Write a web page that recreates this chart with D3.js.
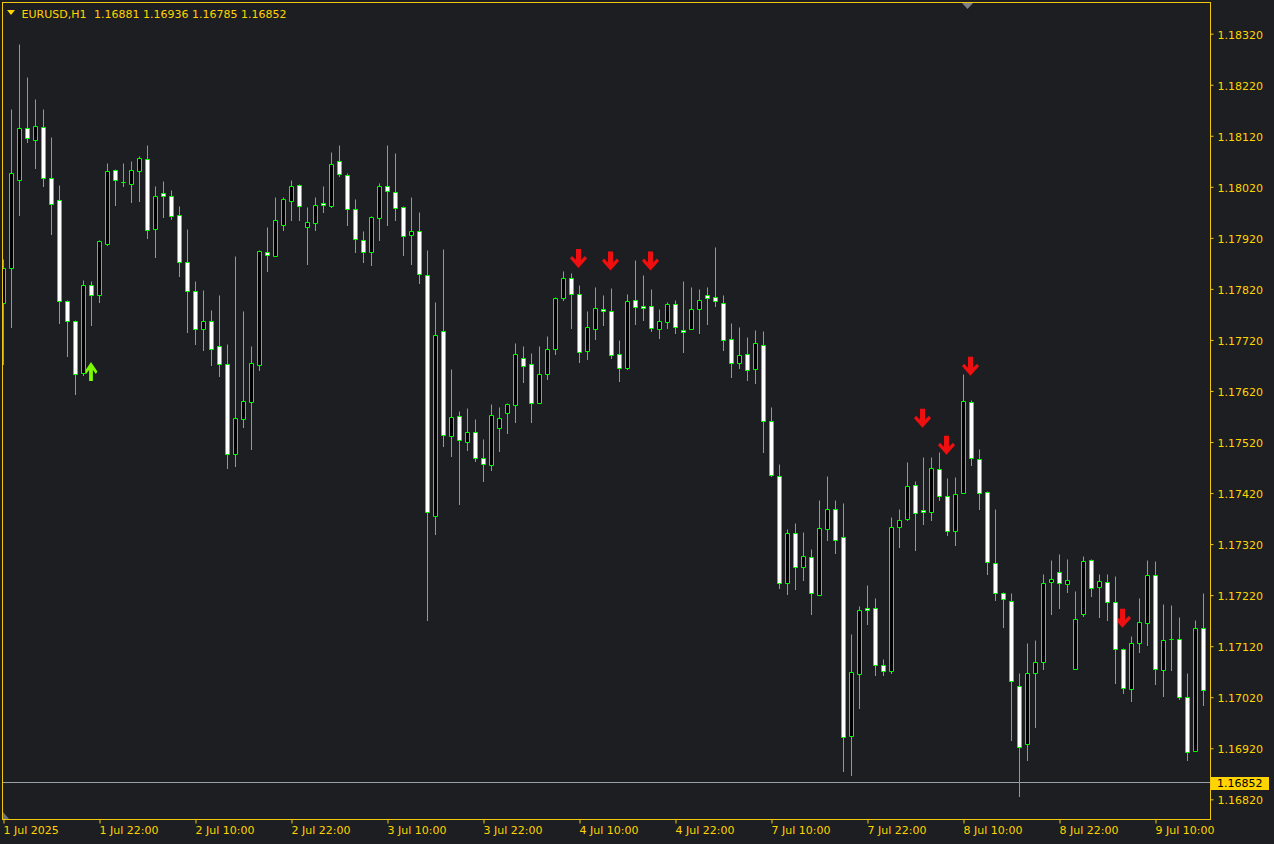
<!DOCTYPE html>
<html><head><meta charset="utf-8">
<script src="https://cdn.jsdelivr.net/npm/d3@7"></script>
<style>
html,body{margin:0;padding:0;background:#1d1e22;}
svg{display:block;}
text{font-family:"DejaVu Sans",Tahoma,sans-serif;font-size:11px;}
</style></head>
<body>
<svg id="chart" width="1274" height="844"></svg>
<script>
// ---- data (EURUSD H1, bars from 1 Jul 10:00) ----
const open = [1.17792,1.17860,1.18032,1.18135,1.18111,1.18137,1.18037,1.17994,1.17796,1.17757,1.17655,1.17827,1.17807,1.17907,1.18052,1.18028,1.18024,1.18050,1.18074,1.17936,1.18007,1.18001,1.17964,1.17872,1.17815,1.17741,1.17757,1.17708,1.17672,1.17496,1.17564,1.17598,1.17670,1.17892,1.17884,1.17945,1.17992,1.18023,1.17941,1.17948,1.17988,1.17981,1.18070,1.18043,1.17976,1.17915,1.17892,1.17958,1.18021,1.18009,1.17980,1.17925,1.17933,1.17847,1.17375,1.17737,1.17531,1.17570,1.17520,1.17539,1.17488,1.17474,1.17546,1.17576,1.17592,1.17684,1.17672,1.17596,1.17653,1.17702,1.17802,1.17841,1.17809,1.17698,1.17741,1.17780,1.17776,1.17692,1.17664,1.17798,1.17786,1.17786,1.17741,1.17755,1.17790,1.17739,1.17741,1.17780,1.17807,1.17803,1.17792,1.17721,1.17674,1.17692,1.17662,1.17710,1.17561,1.17453,1.17243,1.17341,1.17275,1.17294,1.17220,1.17349,1.17388,1.17333,1.16943,1.17065,1.17194,1.17194,1.17083,1.17071,1.17353,1.17368,1.17435,1.17386,1.17382,1.17467,1.17414,1.17344,1.17420,1.17598,1.17486,1.17422,1.17282,1.17224,1.17208,1.17041,1.16928,1.17067,1.17088,1.17245,1.17265,1.17241,1.17075,1.17182,1.17288,1.17235,1.17245,1.17206,1.17114,1.17036,1.17126,1.17165,1.17259,1.17073,1.17133,1.17134,1.17020,1.16914,1.17155];
const high = [1.17878,1.18172,1.18298,1.18235,1.18192,1.18172,1.18116,1.18022,1.17797,1.17758,1.17837,1.17835,1.17914,1.18065,1.18053,1.18065,1.18069,1.18080,1.18100,1.18020,1.18031,1.18012,1.17982,1.17937,1.17835,1.17816,1.17777,1.17808,1.17712,1.17884,1.17775,1.17708,1.17896,1.17941,1.18000,1.18000,1.18033,1.18024,1.17980,1.18000,1.18020,1.18088,1.18100,1.18046,1.17996,1.17933,1.17961,1.18027,1.18100,1.18086,1.17982,1.18000,1.17969,1.17896,1.17794,1.17898,1.17663,1.17580,1.17585,1.17565,1.17524,1.17594,1.17587,1.17595,1.17714,1.17708,1.17694,1.17708,1.17726,1.17803,1.17855,1.17851,1.17826,1.17775,1.17822,1.17808,1.17820,1.17718,1.17810,1.17875,1.17847,1.17818,1.17779,1.17794,1.17798,1.17835,1.17822,1.17818,1.17822,1.17902,1.17808,1.17753,1.17745,1.17724,1.17738,1.17736,1.17587,1.17475,1.17348,1.17361,1.17342,1.17310,1.17406,1.17453,1.17406,1.17399,1.17142,1.17197,1.17238,1.17214,1.17093,1.17373,1.17387,1.17479,1.17442,1.17489,1.17489,1.17500,1.17448,1.17450,1.17653,1.17602,1.17506,1.17424,1.17387,1.17226,1.17224,1.17066,1.17126,1.17132,1.17260,1.17287,1.17299,1.17289,1.17228,1.17295,1.17289,1.17260,1.17260,1.17256,1.17116,1.17139,1.17214,1.17287,1.17285,1.17201,1.17199,1.17177,1.17067,1.17171,1.17224];
const low = [1.17672,1.17744,1.17963,1.18106,1.18056,1.18020,1.17926,1.17752,1.17687,1.17613,1.17651,1.17748,1.17793,1.17906,1.17983,1.18020,1.17989,1.17991,1.17918,1.17881,1.17960,1.17955,1.17844,1.17734,1.17711,1.17699,1.17670,1.17648,1.17468,1.17472,1.17549,1.17505,1.17660,1.17854,1.17883,1.17934,1.17954,1.17954,1.17867,1.17935,1.17969,1.17979,1.18040,1.17944,1.17891,1.17871,1.17865,1.17914,1.17944,1.17954,1.17885,1.17867,1.17830,1.17170,1.17338,1.17511,1.17491,1.17397,1.17503,1.17481,1.17442,1.17464,1.17501,1.17536,1.17558,1.17636,1.17558,1.17595,1.17642,1.17691,1.17797,1.17742,1.17675,1.17681,1.17720,1.17748,1.17683,1.17638,1.17662,1.17750,1.17758,1.17736,1.17722,1.17742,1.17732,1.17695,1.17740,1.17732,1.17750,1.17785,1.17699,1.17646,1.17664,1.17640,1.17634,1.17499,1.17453,1.17233,1.17221,1.17231,1.17248,1.17182,1.17219,1.17327,1.17301,1.16874,1.16866,1.16998,1.17162,1.17062,1.17062,1.17067,1.17313,1.17367,1.17307,1.17358,1.17367,1.17405,1.17336,1.17317,1.17419,1.17474,1.17387,1.17260,1.17210,1.17156,1.16936,1.16825,1.16896,1.16960,1.17075,1.17182,1.17193,1.17225,1.17074,1.17178,1.17217,1.17176,1.17170,1.17047,1.17027,1.17011,1.17107,1.17121,1.17045,1.17021,1.17072,1.17015,1.16896,1.16913,1.17003];
const close = [1.17860,1.18046,1.18135,1.18115,1.18139,1.18036,1.17986,1.17795,1.17757,1.17653,1.17827,1.17807,1.17912,1.18050,1.18032,1.18028,1.18052,1.18076,1.17935,1.18001,1.18001,1.17962,1.17872,1.17815,1.17741,1.17757,1.17702,1.17672,1.17496,1.17566,1.17600,1.17674,1.17894,1.17886,1.17954,1.17996,1.18021,1.17982,1.17950,1.17984,1.17984,1.18064,1.18045,1.17975,1.17917,1.17892,1.17960,1.18021,1.18011,1.17978,1.17923,1.17933,1.17849,1.17382,1.17729,1.17533,1.17568,1.17523,1.17539,1.17487,1.17476,1.17572,1.17566,1.17594,1.17692,1.17668,1.17596,1.17653,1.17702,1.17802,1.17841,1.17809,1.17696,1.17745,1.17782,1.17776,1.17690,1.17664,1.17796,1.17784,1.17782,1.17743,1.17757,1.17790,1.17745,1.17735,1.17780,1.17798,1.17802,1.17796,1.17719,1.17674,1.17690,1.17660,1.17713,1.17561,1.17455,1.17243,1.17341,1.17275,1.17296,1.17224,1.17351,1.17388,1.17327,1.16942,1.17069,1.17190,1.17190,1.17083,1.17071,1.17353,1.17367,1.17433,1.17380,1.17382,1.17468,1.17414,1.17344,1.17418,1.17600,1.17488,1.17420,1.17284,1.17224,1.17212,1.17051,1.16922,1.17067,1.17088,1.17243,1.17251,1.17243,1.17249,1.17173,1.17286,1.17233,1.17247,1.17206,1.17114,1.17038,1.17126,1.17167,1.17259,1.17075,1.17132,1.17133,1.17020,1.16912,1.17155,1.17034];

const buyBars = [11];
const buyPrices = [1.17677];
const sellBars = [72, 76, 81, 115, 118, 121, 140];
const sellPrices = [1.17861, 1.17856, 1.17856, 1.17548, 1.17495, 1.17650, 1.17156];

const timeTickBars = [0,12,24,36,48,60,72,84,96,108,120,132,144];
const timeTickLabels = ["1 Jul 2025","1 Jul 22:00","2 Jul 10:00","2 Jul 22:00","3 Jul 10:00","3 Jul 22:00","4 Jul 10:00","4 Jul 22:00","7 Jul 10:00","7 Jul 22:00","8 Jul 10:00","8 Jul 22:00","9 Jul 10:00"];
const priceTicks = [1.18320,1.18220,1.18120,1.18020,1.17920,1.17820,1.17720,1.17620,1.17520,1.17420,1.17320,1.17220,1.17120,1.17020,1.16920,1.16820];
const symbol = "EURUSD,H1";
const lastBar = [1.16881, 1.16936, 1.16785, 1.16852];
const bidPrice = 1.16852;

// ---- drawing ----
const BG = "#1d1e22", AXIS = "#f2c80f", TXT = "#ffd400", CANDLE = "#00ff00";
const svg = d3.select("#chart");
const L = 2.5, T = 2.5, R = 1210.5, B = 819.5;

const x = d3.scaleLinear().domain([0, 150]).range([3.5, 1203.5]);
const y = d3.scaleLinear().domain([1.16820, 1.18320]).range([799.3, 33.7]);
const sy = v => Math.floor(y(v)) + 0.5;

svg.append("rect").attr("width", 1274).attr("height", 844).attr("fill", BG);

svg.append("defs").append("clipPath").attr("id", "plot")
  .append("rect").attr("x", 3).attr("y", 3).attr("width", R - 3).attr("height", B - 3);

const plot = svg.append("g").attr("clip-path", "url(#plot)");

// bid line
plot.append("line").attr("x1", 3).attr("x2", R).attr("y1", sy(bidPrice)).attr("y2", sy(bidPrice))
  .attr("stroke", "#9aa0a8").attr("stroke-width", 1);

// arrows (drawn below candles)
const sellPts = [[-2.5,-19],[2.5,-19],[2.5,-8],[6.5,-12],[8.5,-9.5],[0,0],[-8.5,-9.5],[-6.5,-12],[-2.5,-8]];
const buyPts = sellPts.map(p => [p[0] * 0.75, -p[1]]);
const line = d3.line();
sellBars.forEach((b, i) => {
  plot.append("path").attr("d", line(sellPts) + "Z")
    .attr("transform", `translate(${x(b) - 1},${y(sellPrices[i])})`)
    .attr("fill", "#ee1010");
});
buyBars.forEach((b, i) => {
  plot.append("path").attr("d", line(buyPts) + "Z")
    .attr("transform", `translate(${x(b) - 0.5},${y(buyPrices[i])})`)
    .attr("fill", "#7cfc00");
});

// candles
const idx = d3.range(open.length);
const cg = plot.append("g");
cg.selectAll("line.wick").data(idx).join("line").attr("class", "wick")
  .attr("x1", i => x(i)).attr("x2", i => x(i))
  .attr("y1", i => sy(high[i])).attr("y2", i => sy(low[i]) + 0.5)
  .attr("stroke", CANDLE).attr("stroke-width", 1);
cg.selectAll("path.body").data(idx).join("path").attr("class", "body")
  .attr("d", i => {
    const top = sy(Math.max(open[i], close[i]));
    const bot = sy(Math.min(open[i], close[i]));
    const xl = x(i) - 2;
    return `M${xl},${top}H${xl + 4}V${bot}H${xl}Z`;
  })
  .attr("fill", i => close[i] > open[i] ? "#000000" : "#ffffff")
  .attr("stroke", CANDLE).attr("stroke-width", 1);

// frame
svg.append("rect").attr("x", L).attr("y", T).attr("width", R - L).attr("height", B - T)
  .attr("fill", "none").attr("stroke", AXIS).attr("stroke-width", 1);

// right price axis
const ya = d3.axisRight(y).tickValues(priceTicks).tickFormat(d3.format(".5f"))
  .tickSize(3).tickPadding(4).tickSizeOuter(0);
const gy = svg.append("g").attr("transform", `translate(${R},0)`).call(ya);
gy.select(".domain").remove();
gy.selectAll(".tick line").attr("stroke", AXIS);
gy.selectAll(".tick text").attr("fill", TXT).attr("dy", "0.42em")
  .style("font-family", '"DejaVu Sans",sans-serif').style("font-size", "11px");

// bottom time axis
const xa = d3.axisBottom(x).tickValues(timeTickBars).tickFormat((d, i) => timeTickLabels[i])
  .tickSize(4).tickPadding(3).tickSizeOuter(0);
const gx = svg.append("g").attr("transform", `translate(0,${B})`).call(xa);
gx.select(".domain").remove();
gx.selectAll(".tick line").attr("stroke", AXIS);
gx.selectAll(".tick text").attr("fill", TXT).attr("text-anchor", "start").attr("x", -0.5)
  .style("font-family", '"DejaVu Sans",sans-serif').style("font-size", "11px");

// bid price label
const by = y(bidPrice);
svg.append("rect").attr("x", 1211).attr("y", Math.round(by) - 6).attr("width", 58).attr("height", 13)
  .attr("fill", "#ffd400");
svg.append("text").attr("x", 1217).attr("y", by + 4.5).attr("fill", "#000").text(d3.format(".5f")(bidPrice));

// header
svg.append("path").attr("d", "M7,10H15L11,15Z").attr("fill", TXT);
svg.append("text").attr("x", 21.5).attr("y", 17.5).attr("fill", TXT).text(symbol);
svg.append("text").attr("x", 94).attr("y", 17.5).attr("fill", TXT)
  .text(lastBar.map(d3.format(".5f")).join(" "));

// chart shift marker & corner marker
svg.append("path").attr("d", "M962,3H973L967.5,9Z").attr("fill", "#7f8084");
svg.append("path").attr("d", "M3,812L3,819L9,819Z").attr("fill", "#6c7380");
</script>
</body></html>
